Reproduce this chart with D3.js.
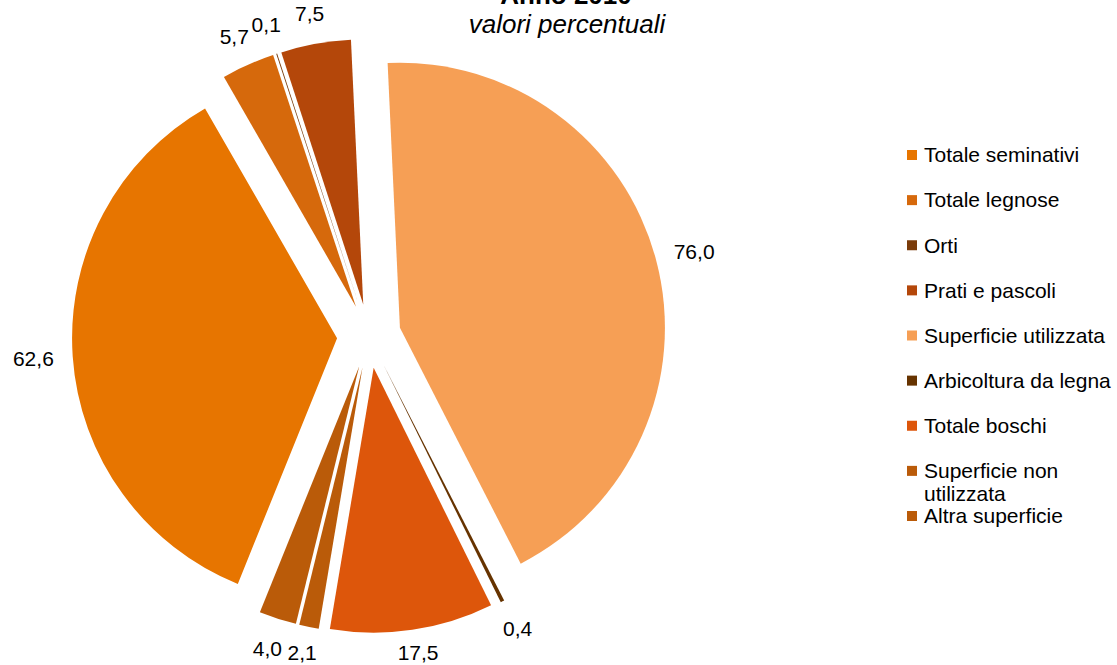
<!DOCTYPE html>
<html>
<head>
<meta charset="utf-8">
<script src="https://cdn.jsdelivr.net/npm/d3@7"></script>
<style>
  body { margin: 0; background: #fff; }
  svg { display: block; font-family: "Liberation Sans", Arial, sans-serif; }
</style>
</head>
<body>
<div class="plot"></div>
<script>
// data, in legend order (= clockwise order of the slices)
const categories = ["Totale seminativi", "Totale legnose", "Orti", "Prati e pascoli",
  "Superficie utilizzata", "Arbicoltura da legna", "Totale boschi",
  "Superficie non utilizzata", "Altra superficie"];
const values = [62.6, 5.7, 0.1, 7.5, 76.0, 0.4, 17.5, 2.1, 4.0];
const labels = ["62,6", "5,7", "0,1", "7,5", "76,0", "0,4", "17,5", "2,1", "4,0"];
const colors = ["#e77500", "#d6690c", "#7a3b0a", "#b4470a", "#f69f55",
  "#663300", "#dd560b", "#ba5b09", "#ba5b09"];

const width = 1117, height = 665;
const cx = 369, cy = 336;     // pie centre
const radius = 265;
const explode = 32;           // every slice pulled out
const firstAngle = 202;       // degrees, first slice start

const svg = d3.select(".plot")
  .append("svg")
    .attr("width", width)
    .attr("height", height);

// title (cut at the top edge, as in the original)
svg.append("text")
  .attr("x", 566).attr("y", 4)
  .attr("text-anchor", "middle")
  .style("font-size", "26px").style("font-weight", "bold")
  .text("Anno 2010");
svg.append("text")
  .attr("x", 567).attr("y", 33)
  .attr("text-anchor", "middle")
  .style("font-size", "26px").style("font-style", "italic")
  .text("valori percentuali");

const data = categories.map((c, i) => ({name: c, value: values[i], label: labels[i], color: colors[i]}));

const start = firstAngle * Math.PI / 180;
const pie = d3.pie()
  .sort(null)
  .value(d => d.value)
  .startAngle(start)
  .endAngle(start + 2 * Math.PI);

const arc = d3.arc().innerRadius(0).outerRadius(radius);

const g = svg.append("g").attr("transform", `translate(${cx},${cy})`);

const slices = g.selectAll("g.slice")
  .data(pie(data))
  .enter()
  .append("g")
    .attr("class", "slice")
    .attr("transform", d => {
      const mid = (d.startAngle + d.endAngle) / 2;
      return `translate(${explode * Math.sin(mid)},${-explode * Math.cos(mid)})`;
    });

slices.append("path")
  .attr("d", arc)
  .attr("fill", d => d.data.color);

// data labels outside the end of each slice
const pad = 19, boxH = 24;
slices.append("text")
  .style("font-size", "21px")
  .attr("fill", "#000")
  .attr("text-anchor", "middle")
  .attr("dominant-baseline", "central")
  .text(d => d.data.label)
  .each(function(d) {
    const mid = (d.startAngle + d.endAngle) / 2;
    const w = this.getComputedTextLength();
    const s = Math.sin(mid), c = -Math.cos(mid);
    const px = (radius + pad) * s + s * w / 2;
    const py = Math.min((radius + pad) * c + c * boxH / 2, height - cy - explode * c - 12);
    d3.select(this).attr("x", px).attr("y", py);
  });

// legend
const legendY = d3.scalePoint()
  .domain(categories)
  .range([155, 516]);

const legend = svg.append("g").attr("transform", "translate(907,0)");
const items = legend.selectAll("g")
  .data(data)
  .enter()
  .append("g")
    .attr("transform", d => `translate(0,${legendY(d.name)})`);

items.append("rect")
  .attr("x", 0).attr("y", -5)
  .attr("width", 10).attr("height", 10)
  .attr("fill", d => d.color);

items.append("text")
  .attr("x", 17)
  .attr("dy", "0.35em")
  .style("font-size", "21px")
  .each(function(d) {
    const t = d3.select(this);
    if (d.name === "Superficie non utilizzata") {
      t.append("tspan").attr("x", 17).text("Superficie non");
      t.append("tspan").attr("x", 17).attr("dy", "1.1em").text("utilizzata");
    } else {
      t.text(d.name);
    }
  });
</script>
</body>
</html>
